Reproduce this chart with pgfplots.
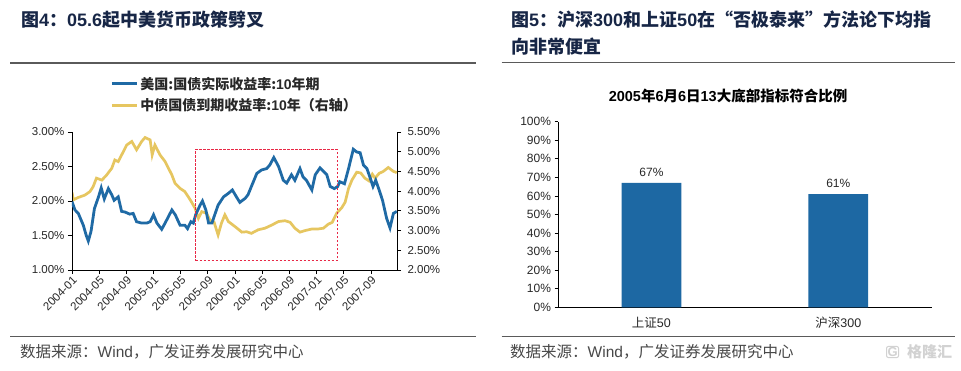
\documentclass[border=0pt]{standalone}
\usepackage{pgfplots}
\pgfplotsset{compat=1.18}
\usepackage{fontspec}
\setmainfont{Liberation Sans}
\newfontfamily\cjk{Noto Sans CJK SC}
\definecolor{ttl}{RGB}{23,38,70}
\definecolor{lblue}{RGB}{31,106,165}
\definecolor{lyel}{RGB}{230,198,96}
\definecolor{barblue}{RGB}{29,104,163}
\definecolor{boxred}{RGB}{232,40,70}
\definecolor{txt}{RGB}{40,40,40}
\definecolor{rule}{RGB}{90,90,90}
\pgfplotsset{/pgf/number format/assume math mode=true}
\begin{document}
\begin{tikzpicture}
\fill[white] (0pt,0pt) rectangle (961pt,370pt);
% titles
\node[anchor=west, inner sep=0, text=ttl, font=\fontsize{18}{22}\selectfont\bfseries] at (21pt,350pt) {{\cjk 图}4{\cjk ：}05.6{\cjk 起中美货币政策劈叉}};
\node[anchor=west, inner sep=0, text=ttl, font=\fontsize{18}{22}\selectfont\bfseries] at (511pt,350pt) {{\cjk 图}5{\cjk ：沪深}300{\cjk 和上证}50{\cjk 在“否极泰来”方法论下均指}};
\node[anchor=west, inner sep=0, text=ttl, font=\fontsize{18}{22}\selectfont\bfseries] at (511pt,323pt) {{\cjk 向非常便宜}};
% rules
\draw[rule, line width=1.4pt] (10pt,307pt) -- (476pt,307pt);
\draw[rule, line width=1.4pt] (501.7pt,307.5pt) -- (955pt,307.5pt);
\draw[rule, line width=1.4pt] (10pt,33.3pt) -- (476pt,33.3pt);
\draw[rule, line width=1.4pt] (501.7pt,33.3pt) -- (955pt,33.3pt);
% sources
\node[anchor=west, inner sep=0, text=txt!85, font=\fontsize{15.5}{18}\selectfont] at (20pt,18pt) {{\cjk 数据来源：}Wind{\cjk ，广发证券发展研究中心}};
\node[anchor=west, inner sep=0, text=txt!85, font=\fontsize{15.5}{18}\selectfont] at (510pt,18pt) {{\cjk 数据来源：}Wind{\cjk ，广发证券发展研究中心}};
\node[anchor=west, inner sep=1pt, text=gray!35, draw=gray!35, rounded corners=2pt, line width=1pt, font=\fontsize{13}{15}\selectfont\bfseries] at (886pt,18pt) {G};
\node[anchor=west, inner sep=0, text=gray!35, font=\fontsize{15}{17}\selectfont\bfseries] at (907pt,18pt) {{\cjk 格隆汇}};
% bar title
\node[inner sep=0, text=black, font=\fontsize{14.5}{17}\selectfont\bfseries] at (728pt,274pt) {2005{\cjk 年}6{\cjk 月}6{\cjk 日}13{\cjk 大底部指标符合比例}};

% ---------- left chart: right axis (yellow) ----------
\begin{axis}[at={(72pt,100pt)}, anchor=south west, scale only axis,
  width=325pt, height=138pt, xmin=0, xmax=47.83, ymin=2, ymax=5.5,
  axis y line*=right, axis x line=none,
  ytick={2,2.5,3,3.5,4,4.5,5,5.5},
  yticklabel={\pgfmathprintnumber[fixed,fixed zerofill,precision=2]{\tick}\%},
  tick align=outside, major tick length=4pt,
  y axis line style={black, line width=0.8pt}, ytick style={black, line width=0.8pt},
  yticklabel style={font=\fontsize{11.5}{13}\selectfont, text=txt, xshift=3pt}]
\addplot[lyel, line width=2.7pt] coordinates {
(0,3.97)(0.2,3.78)(0.93,3.84)(1.9,3.90)(2.65,3.99)(3.1,4.11)(3.6,4.33)(4.4,4.28)(5.1,4.41)(5.85,4.58)(6.3,4.79)(6.8,4.75)(7.55,5.00)(8.05,5.17)(8.8,5.26)(9.5,5.05)(10.25,5.26)(10.75,5.36)(11.5,5.30)(11.8,4.92)(12.2,5.17)(12.95,4.92)(13.7,4.75)(14.7,4.41)(15.16,4.20)(15.9,4.07)(16.6,3.99)(17.4,3.78)(18.1,3.57)(18.6,3.31)(19.1,3.48)(19.8,3.44)(20.3,3.27)(20.9,3.22)(21.5,2.89)(22.0,3.19)(22.5,3.40)(23.0,3.23)(24.0,3.10)(25.0,2.96)(25.7,2.97)(26.4,2.93)(27.4,3.02)(28.4,3.06)(29.4,3.14)(30.4,3.23)(31.35,3.25)(32.1,3.21)(32.8,3.06)(33.55,2.96)(34.3,3.00)(35.3,3.04)(36.2,3.04)(37.0,3.06)(37.7,3.16)(38.3,3.21)(38.95,3.44)(39.7,3.58)(40.2,3.72)(40.7,4.07)(41.2,4.28)(41.9,4.48)(42.5,4.46)(43.1,4.33)(43.7,4.26)(44.2,4.43)(44.6,4.33)(45.2,4.45)(45.8,4.50)(46.55,4.60)(47.3,4.50)(47.8,4.47)};
\end{axis}

% ---------- left chart: left axis (blue) ----------
\begin{axis}[at={(72pt,100pt)}, anchor=south west, scale only axis,
  width=325pt, height=138pt, xmin=0, xmax=47.83, ymin=1, ymax=3,
  axis y line*=left, axis x line*=bottom,
  ytick={1,1.5,2,2.5,3},
  yticklabel={\pgfmathprintnumber[fixed,fixed zerofill,precision=2]{\tick}\%},
  xtick={0,4,...,44},
  xticklabels={2004-01,2004-05,2004-09,2005-01,2005-05,2005-09,2006-01,2006-05,2006-09,2007-01,2007-05,2007-09},
  tick align=outside, major tick length=4pt,
  axis line style={black, line width=0.8pt}, tick style={black, line width=0.8pt},
  yticklabel style={font=\fontsize{11.5}{13}\selectfont, text=txt},
  xticklabel style={font=\fontsize{11.5}{13}\selectfont, text=txt, rotate=45, anchor=north east, inner sep=1pt},
  legend style={at={(axis description cs:0.118,1.415)}, anchor=north west, draw=none, fill=none,
    font=\fontsize{14}{16}\selectfont\bfseries, row sep=4pt, inner sep=0pt, text=txt},
  legend cell align=left,
  legend image code/.code={\draw[#1] (0pt,0pt) -- (25pt,0pt);}]
\addplot[lblue, line width=2.8pt] coordinates {
(0,1.99)(0.44,1.87)(0.93,1.82)(1.66,1.65)(2.1,1.5)(2.4,1.42)(2.8,1.56)(3.3,1.89)(3.9,2.06)(4.3,2.19)(4.75,2.03)(5.35,2.18)(5.85,2.09)(6.2,2.01)(6.8,2.06)(7.3,1.85)(7.8,1.84)(8.5,1.81)(9.0,1.82)(9.5,1.70)(10.25,1.68)(11.0,1.68)(11.5,1.70)(12.0,1.80)(12.5,1.68)(13.2,1.59)(13.7,1.68)(14.7,1.87)(15.2,1.80)(15.9,1.65)(16.6,1.65)(17.0,1.60)(17.5,1.70)(17.85,1.68)(18.2,1.80)(18.85,1.94)(19.2,2.00)(19.7,1.87)(20.1,1.68)(20.6,1.68)(20.9,1.77)(21.5,1.94)(22.3,2.06)(23.0,2.11)(23.6,2.16)(24.2,2.06)(24.7,1.98)(25.5,2.04)(25.9,2.09)(26.4,2.21)(27.2,2.40)(27.9,2.45)(28.65,2.47)(29.1,2.52)(29.7,2.63)(30.4,2.50)(31.1,2.30)(31.6,2.26)(32.3,2.38)(32.8,2.30)(33.55,2.47)(34.0,2.35)(34.5,2.30)(35.3,2.16)(35.8,2.38)(36.5,2.48)(37.0,2.43)(37.5,2.38)(38.0,2.21)(38.6,2.18)(39.1,2.21)(39.4,2.28)(40.1,2.25)(40.7,2.47)(41.4,2.75)(41.9,2.71)(42.4,2.70)(42.9,2.52)(43.4,2.47)(43.9,2.33)(44.3,2.21)(44.7,2.30)(45.2,2.16)(45.7,2.01)(46.3,1.75)(46.8,1.61)(47.3,1.82)(47.8,1.85)};
\addlegendentry{{\cjk 美国:国债实际收益率:}10{\cjk 年期}}
\addlegendimage{lyel, line width=2.7pt}
\addlegendentry{{\cjk 中债国债到期收益率:}10{\cjk 年（右轴）}}
\addplot[boxred, line width=0.9pt, dash pattern=on 2.5pt off 1.5pt, forget plot] coordinates {(18.2,1.135)(39.0,1.135)(39.0,2.75)(18.2,2.75)(18.2,1.135)};
\end{axis}

% ---------- right chart: bars ----------
\begin{axis}[at={(558pt,62.7pt)}, anchor=south west, scale only axis,
  width=373.7pt, height=185.6pt, xmin=-0.5, xmax=1.5, ymin=0, ymax=100,
  axis y line*=left, axis x line*=bottom,
  ytick={0,10,...,100},
  yticklabel={\pgfmathprintnumber{\tick}\%},
  xtick={0,1}, xticklabels={{\cjk 上证}50,{\cjk 沪深}300},
  tick align=outside, major tick length=3.5pt,
  axis line style={black, line width=0.8pt}, ytick style={black, line width=0.8pt},
  xtick style={draw=none},
  yticklabel style={font=\fontsize{12}{14}\selectfont, text=txt},
  xticklabel style={font=\fontsize{12.5}{14}\selectfont, text=txt, yshift=-3pt},
  ybar, bar width=59.7pt,
  nodes near coords={\pgfmathprintnumber{\pgfplotspointmeta}\%},
  nodes near coords style={font=\fontsize{12}{14}\selectfont, text=txt, yshift=3pt}]
\addplot[fill=barblue, draw=none] coordinates {(0,67) (1,61)};
\end{axis}
\end{tikzpicture}
\end{document}
